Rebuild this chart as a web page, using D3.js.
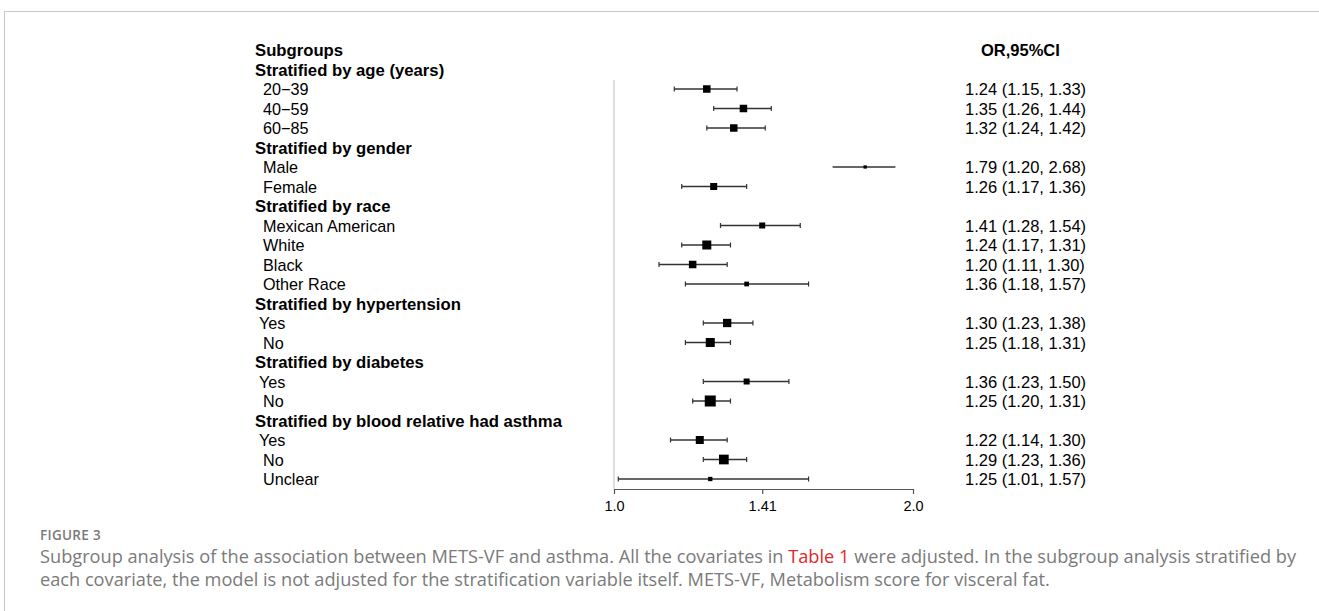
<!DOCTYPE html>
<html><head><meta charset="utf-8">
<script src="https://cdn.jsdelivr.net/npm/d3@7"></script>
<style>body{margin:0;background:#fff;} svg{display:block;}</style>
</head><body>
<svg id="chart" width="1319" height="611"></svg>
<script>
// ---- data ----
const labels = ["Subgroups","Stratified by age (years)","20\u221239","40\u221259","60\u221285",
 "Stratified by gender","Male","Female","Stratified by race","Mexican American","White","Black","Other Race",
 "Stratified by hypertension","Yes","No","Stratified by diabetes","Yes","No",
 "Stratified by blood relative had asthma","Yes","No","Unclear"];
const isHeader = [1,1,0,0,0,1,0,0,1,0,0,0,0,1,0,0,1,0,0,1,0,0,0];
const orText = ["OR,95%CI","","1.24 (1.15, 1.33)","1.35 (1.26, 1.44)","1.32 (1.24, 1.42)",
 "","1.79 (1.20, 2.68)","1.26 (1.17, 1.36)","","1.41 (1.28, 1.54)","1.24 (1.17, 1.31)","1.20 (1.11, 1.30)","1.36 (1.18, 1.57)",
 "","1.30 (1.23, 1.38)","1.25 (1.18, 1.31)","","1.36 (1.23, 1.50)","1.25 (1.20, 1.31)",
 "","1.22 (1.14, 1.30)","1.29 (1.23, 1.36)","1.25 (1.01, 1.57)"];
// point estimates and drawn interval ends (null for header rows)
const est  = [null,null,1.24,1.35,1.32,null,1.79,1.26,null,1.41,1.24,1.20,1.36,null,1.30,1.25,null,1.36,1.25,null,1.22,1.29,1.25];
const lo   = [null,null,1.15,1.26,1.24,null,1.66,1.17,null,1.28,1.17,1.11,1.18,null,1.23,1.18,null,1.23,1.20,null,1.14,1.23,1.01];
const hi   = [null,null,1.33,1.44,1.42,null,1.92,1.36,null,1.54,1.31,1.30,1.57,null,1.38,1.31,null,1.50,1.31,null,1.30,1.36,1.57];
const hasCaps = [0,0,1,1,1,0,0,1,0,1,1,1,1,0,1,1,0,1,1,0,1,1,1];
const boxWeight = [0,0,7.5,7.5,7.5,0,3.3,7,0,6,9,7.5,4.7,0,8.3,9,0,6,11,0,8,9.7,4.3];
const tickValues = [1.0, 1.41, 2.0];
const tickLabels = ["1.0","1.41","2.0"];

// ---- layout ----
const svg = d3.select("#chart");
const x = d3.scaleLog().domain([1, 2]).range([614, 913]);
const y = d3.scaleLinear().domain([0, labels.length - 1]).range([50, 479]);
const rows = labels.map((l, i) => ({i, l, h: isHeader[i], or: orText[i], est: est[i], lo: lo[i], hi: hi[i], cap: hasCaps[i], w: boxWeight[i]}));

// figure frame
svg.append("line").attr("x1",4).attr("x2",1319).attr("y1",11.5).attr("y2",11.5).attr("stroke","#c8c8c8");
svg.append("line").attr("x1",4.5).attr("x2",4.5).attr("y1",11).attr("y2",611).attr("stroke","#c8c8c8");

const font = "Liberation Sans, Arial, sans-serif";
// labels
svg.append("g").selectAll("text").data(rows).join("text")
  .attr("x", d => d.h ? 255 : (d.l === "Yes" ? 259 : 263))
  .attr("y", d => y(d.i) + 6)
  .attr("font-family", font).attr("font-size", d => d.h ? 16.7 : 16.2)
  .attr("font-weight", d => d.h ? "bold" : "normal")
  .attr("fill", "#000")
  .text(d => d.l);

// OR text
svg.append("g").selectAll("text").data(rows.filter(d => d.or)).join("text")
  .attr("x", d => d.i === 0 ? 981 : 965)
  .attr("y", d => y(d.i) + 6)
  .attr("font-family", font).attr("font-size", 16.5)
  .attr("font-weight", d => d.i === 0 ? "bold" : "normal")
  .text(d => d.or);

// reference line
svg.append("line").attr("x1", x(1)).attr("x2", x(1)).attr("y1", 80).attr("y2", 489)
  .attr("stroke", "#d4d4d4").attr("stroke-width", 1.5);

// CIs
const ci = rows.filter(d => d.est !== null);
const g = svg.append("g");
g.selectAll("line.ci").data(ci).join("line").attr("class","ci")
  .attr("x1", d => x(d.lo)).attr("x2", d => x(d.hi))
  .attr("y1", d => y(d.i)).attr("y2", d => y(d.i))
  .attr("stroke", "#333").attr("stroke-width", 1.4);
g.selectAll("line.capl").data(ci.filter(d => d.cap)).join("line").attr("class","capl")
  .attr("x1", d => x(d.lo)).attr("x2", d => x(d.lo))
  .attr("y1", d => y(d.i) - 2.5).attr("y2", d => y(d.i) + 2.5)
  .attr("stroke", "#333").attr("stroke-width", 1.2);
g.selectAll("line.capr").data(ci.filter(d => d.cap)).join("line").attr("class","capr")
  .attr("x1", d => x(d.hi)).attr("x2", d => x(d.hi))
  .attr("y1", d => y(d.i) - 2.5).attr("y2", d => y(d.i) + 2.5)
  .attr("stroke", "#333").attr("stroke-width", 1.2);
g.selectAll("rect").data(ci).join("rect")
  .attr("x", d => x(d.est) - d.w / 2).attr("y", d => y(d.i) - d.w / 2)
  .attr("width", d => d.w).attr("height", d => d.w).attr("fill", "#000");

// axis
const axis = d3.axisBottom(x).tickValues(tickValues).tickFormat((d, i) => tickLabels[i]).tickSize(5).tickSizeOuter(0);
const ax = svg.append("g").attr("transform", "translate(0,489)").call(axis);
ax.select(".domain").attr("stroke", "#555").attr("stroke-width", 1.2);
ax.selectAll(".tick line").attr("stroke", "#555").attr("stroke-width", 1.2);
ax.selectAll(".tick text").attr("font-family", font).attr("font-size", 14.5).attr("fill", "#000").attr("dy", "0.95em");

// caption
const capFont = "'Open Sans', 'Noto Sans', sans-serif";
svg.append("text").attr("x", 40).attr("y", 540).attr("font-family", capFont).attr("font-size", 13.5)
  .attr("font-weight", 600).attr("fill", "#7a7a7a").attr("letter-spacing", 0.3).text("FIGURE 3");
const l1 = svg.append("text").attr("x", 40).attr("y", 563).attr("font-family", capFont).attr("font-size", 16.5).attr("fill", "#7a7a7a");
l1.append("tspan").text("Subgroup analysis of the association between METS-VF and asthma. All the covariates in ");
l1.append("tspan").attr("fill", "#e3262b").text("Table 1");
l1.append("tspan").text(" were adjusted. In the subgroup analysis stratified by");
const l2 = svg.append("text").attr("x", 40).attr("y", 586).attr("font-family", capFont).attr("font-size", 16.5).attr("fill", "#7a7a7a")
  .text("each covariate, the model is not adjusted for the stratification variable itself. METS-VF, Metabolism score for visceral fat.");
const w1 = l1.node().getComputedTextLength();
const sc = 1257 / w1;
l1.attr("font-size", 16.5 * sc);
l2.attr("font-size", 16.5 * sc);
</script>
</body></html>
